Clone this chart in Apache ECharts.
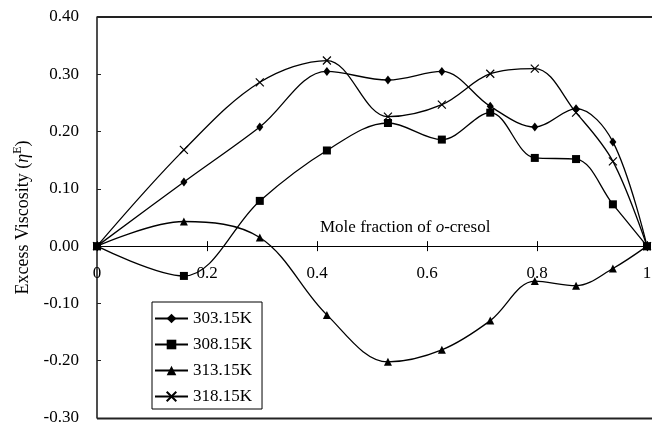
<!DOCTYPE html>
<html><head><meta charset="utf-8">
<script src="https://cdn.jsdelivr.net/npm/echarts@6/dist/echarts.min.js"></script>
<style>html,body{margin:0;padding:0;background:#fff}#c{width:652px;height:425px}</style>
</head><body><div id="c"></div>
<script>
const moleFraction = [0, 0.158, 0.296, 0.418, 0.529, 0.627, 0.715, 0.796, 0.871, 0.938, 1];
const seriesNames = ['303.15K', '308.15K', '313.15K', '318.15K'];
const v303 = [0, 0.112, 0.208, 0.305, 0.290, 0.305, 0.244, 0.208, 0.240, 0.182, 0];
const v308 = [0, -0.052, 0.079, 0.167, 0.215, 0.186, 0.233, 0.154, 0.152, 0.073, 0];
const v313 = [0, 0.043, 0.015, -0.120, -0.202, -0.181, -0.130, -0.061, -0.069, -0.039, 0];
const v318 = [0, 0.168, 0.286, 0.324, 0.226, 0.247, 0.301, 0.310, 0.233, 0.148, 0];
const xTicks = [0, 0.2, 0.4, 0.6, 0.8, 1];
const yTicks = [-0.3, -0.2, -0.1, 0, 0.1, 0.2, 0.3, 0.4];

const F = 'Liberation Serif, Times New Roman, serif';
const symbols = ['diamond', 'rect', 'triangle', 'path://M0,0L10,10M10,0L0,10'];
const sizes = [[7, 9], 8, 8, 8];
const values = [v303, v308, v313, v318];
const xFmt = v => (v === 0 ? '0' : (Math.abs(v - 1) < 1e-9 ? '1' : v.toFixed(1)));

const chart = echarts.init(document.getElementById('c'), null, {renderer: 'canvas'});
chart.setOption({
  animation: false,
  backgroundColor: '#fff',
  grid: [
    {left: 97, right: 5, top: 17, bottom: 7, show: false, containLabel: false, outerBoundsMode: 'none'},
    // upper half grid (0 .. 0.40) used only to place the x tick labels under the zero line
    {left: 97, right: 5, top: 17, height: 229.3, show: false, containLabel: false, outerBoundsMode: 'none'}
  ],
  xAxis: [{
    type: 'value', gridIndex: 0, min: xTicks[0], max: xTicks[xTicks.length - 1], interval: 0.2, position: 'bottom',
    axisLine: {show: true, onZero: true, onZeroAxisIndex: 0, lineStyle: {color: '#000', width: 1}},
    axisTick: {show: true, inside: false, length: 5, lineStyle: {color: '#000', width: 1}},
    axisLabel: {show: false},
    splitLine: {show: false}
  }, {
    type: 'value', gridIndex: 0, min: xTicks[0], max: xTicks[xTicks.length - 1], interval: 0.2, position: 'top',
    axisLine: {show: false, onZero: true, onZeroAxisIndex: 0},
    axisTick: {show: true, inside: false, length: 5, lineStyle: {color: '#000', width: 1}},
    axisLabel: {show: false},
    splitLine: {show: false}
  }, {
    type: 'value', gridIndex: 1, min: xTicks[0], max: xTicks[xTicks.length - 1], interval: 0.2, position: 'bottom',
    axisLine: {show: false, onZero: false},
    axisTick: {show: false},
    axisLabel: {show: true, margin: 19, fontFamily: F, fontSize: 17, color: '#000', formatter: xFmt},
    splitLine: {show: false}
  }],
  yAxis: [{
    type: 'value', gridIndex: 0, min: yTicks[0], max: yTicks[yTicks.length - 1], interval: 0.1,
    name: '{n|Excess Viscosity (}{e|η}{s|E}{n|)}',
    nameLocation: 'middle', nameGap: 63, nameRotate: 90,
    nameTextStyle: {rich: {
      n: {fontFamily: F, fontSize: 18, color: '#000'},
      e: {fontFamily: F, fontSize: 18, fontStyle: 'italic', color: '#000'},
      s: {fontFamily: F, fontSize: 12, color: '#000', padding: [0, 0, 10, 0]}
    }},
    axisLine: {show: true, onZero: false, lineStyle: {color: '#222', width: 1.6}},
    axisTick: {show: true, inside: true, length: 4, lineStyle: {color: '#222', width: 1}},
    axisLabel: {margin: 18, fontFamily: F, fontSize: 17, color: '#000', formatter: v => v.toFixed(2)},
    splitLine: {show: false}
  }, {
    type: 'value', gridIndex: 1, min: 0, max: 0.4, show: false
  }],
  legend: {
    orient: 'vertical', left: 152, top: 302,
    data: seriesNames,
    itemWidth: 33, itemHeight: 12, itemGap: 9,
    padding: [8, 10, 4, 2],
    borderColor: '#000', borderWidth: 1,
    textStyle: {fontFamily: F, fontSize: 17, color: '#000', padding: [0, 0, 0, 0]}
  },
  graphic: [
    {type: 'line', silent: true, shape: {x1: 97, y1: 17, x2: 652, y2: 17}, style: {stroke: '#222', lineWidth: 2}},
    {type: 'line', silent: true, shape: {x1: 97, y1: 418.5, x2: 652, y2: 418.5}, style: {stroke: '#222', lineWidth: 2}},
    {type: 'text', left: 320, top: 219, silent: true, style: {
      text: '{n|Mole fraction of }{i|o}{n|-cresol}',
      rich: {
        n: {fontFamily: F, fontSize: 17, fill: '#000'},
        i: {fontFamily: F, fontSize: 17, fontStyle: 'italic', fill: '#000'}
      }
    }}
  ],
  series: seriesNames.map((name, k) => ({
    name: name, type: 'line', xAxisIndex: 0, yAxisIndex: 0,
    data: moleFraction.map((x, i) => [x, values[k][i]]),
    smooth: 0.35,
    symbol: symbols[k], symbolSize: sizes[k],
    showAllSymbol: true,
    lineStyle: {color: '#000', width: 1.3},
    itemStyle: {color: '#000', borderColor: '#000', borderWidth: k === 3 ? 1.2 : 0},
    z: 3
  }))
});
</script></body></html>
